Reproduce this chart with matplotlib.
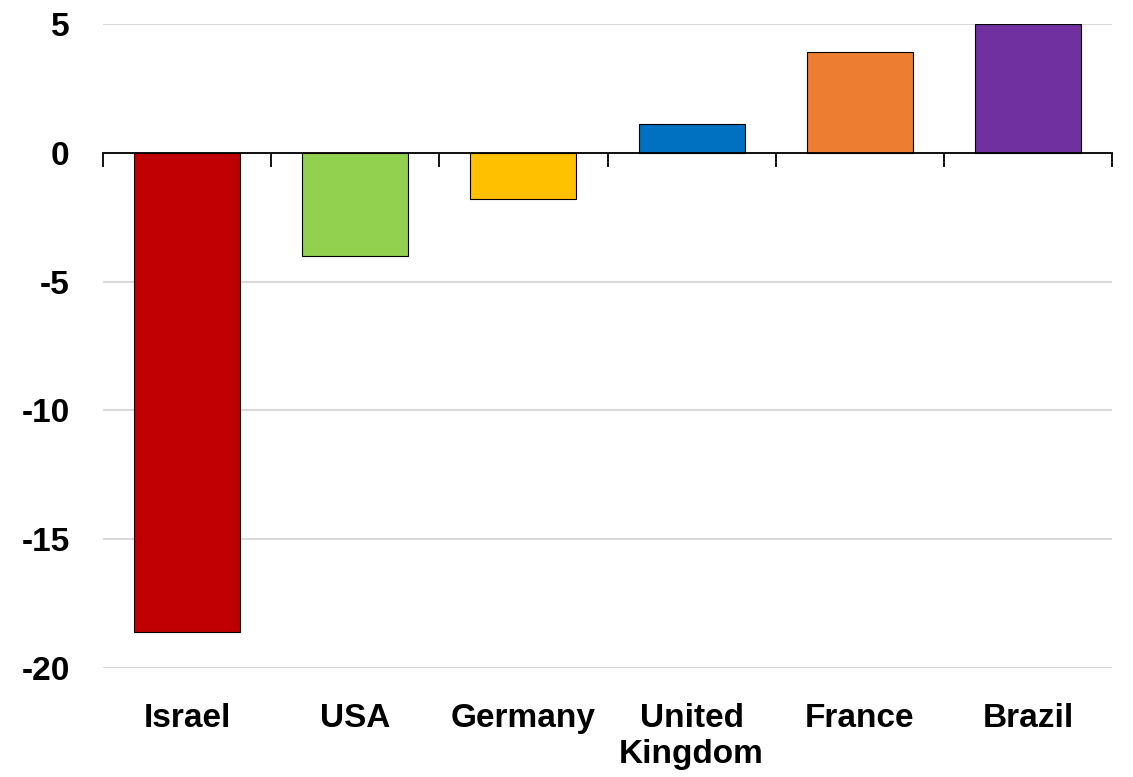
import matplotlib
matplotlib.use('Agg')
import matplotlib.pyplot as plt
import numpy as np

# dados
paises = ["Israel", "USA", "Germany", "United\nKingdom", "France", "Brazil"]
valores = [-18.6, -4.0, -1.8, 1.1, 3.9, 5.0]
cores = ["#C00000", "#92D050", "#FFC000", "#0070C0", "#ED7D31", "#7030A0"]
yticks = [-20, -15, -10, -5, 0, 5]

plt.rcParams['font.family'] = ['Liberation Sans', 'DejaVu Sans']
plt.rcParams['font.weight'] = 'bold'

fig = plt.figure(figsize=(11.33, 7.77), dpi=100)
ax = fig.add_axes([0.0909, 0.1403, 0.8906, 0.8288])

x = np.arange(len(paises))
ax.bar(x, valores, width=0.63, color=cores, edgecolor='black', linewidth=0.8, zorder=3)

ax.set_xlim(-0.5, len(paises) - 0.5)
ax.set_ylim(-20, 5)
ax.set_yticks(yticks)
ax.set_yticklabels([str(v) for v in yticks], fontsize=24, fontweight='bold')
ax.tick_params(axis='y', length=0, pad=24)
ax.grid(axis='y', color='#d9d9d9', linewidth=1.5, zorder=0)

for lado in ['left', 'right', 'top']:
    ax.spines[lado].set_visible(False)

# eixo x passa pelo zero, marcas entre as categorias
ax.spines['bottom'].set_position(('data', 0))
ax.spines['bottom'].set_linewidth(1.3)
ax.spines['bottom'].set_zorder(4)
ax.set_xticks(np.arange(len(paises) + 1) - 0.5)
ax.set_xticklabels([])
ax.tick_params(axis='x', direction='out', length=10, width=1.3, color='black')

# nomes dos paises embaixo do grafico
for xi, nome in zip(x, paises):
    ax.annotate(nome, xy=(xi, 0), xycoords=('data', 'axes fraction'),
                xytext=(0, -25), textcoords='offset points',
                ha='center', va='top', fontsize=24, fontweight='bold',
                linespacing=1.2)

fig.savefig("out.png", dpi=100)
plt.close(fig)
